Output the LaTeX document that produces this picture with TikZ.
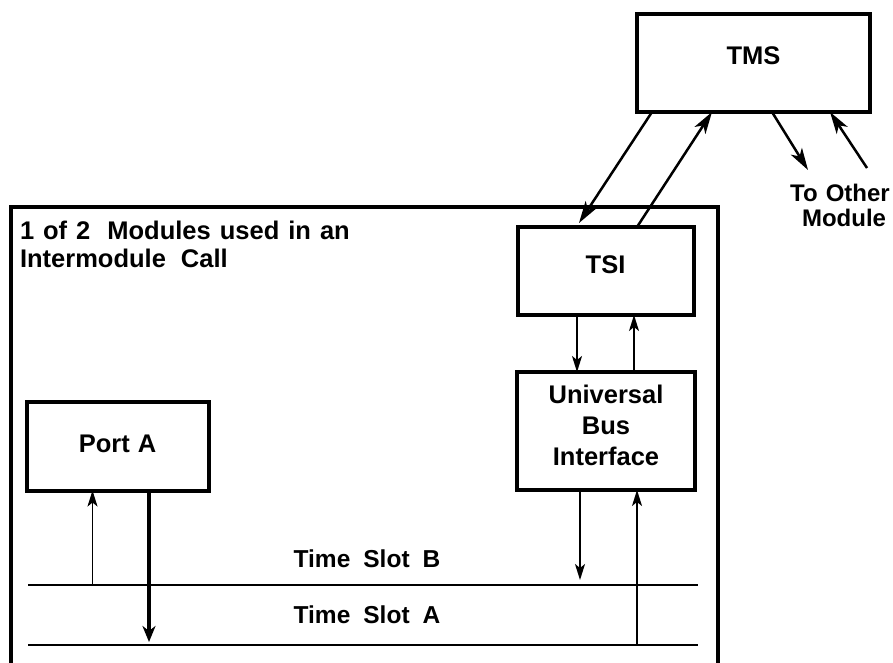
\documentclass[tikz,border=0pt]{standalone}
\usepackage{fontspec}
\setmainfont{Liberation Sans}
\usetikzlibrary{arrows.meta,calc}
% explicit word gap of a given width
\newcommand\wgap[1]{\hspace*{#1}}
\begin{document}
\begin{tikzpicture}[x=1pt,y=-1pt,
  box/.style={draw,line width=4pt,inner sep=0pt,outer sep=0pt},
  txt/.style={inner sep=0pt,outer sep=0pt,font=\fontsize{25.5}{31}\selectfont\bfseries},
  border/.style={line width=4.5pt},
  slot/.style={line width=2pt},
  linkarrow/.style={line width=2.5pt,-{Stealth[length=22pt,width=13pt,inset=6pt]}},
  thinarrow/.style={line width=1.7pt,-{Stealth[length=16pt,width=10pt,inset=4pt]}},
  heavyarrow/.style={line width=3.5pt,-{Stealth[length=16pt,width=13pt,inset=5pt]}}
]
\useasboundingbox (0,0) rectangle (893,663);

% module outline (open at the bottom)
\draw[border] (11,663) -- (11,207) -- (718,207) -- (718,663);

% boxes
\node[box,minimum width=233pt,minimum height=98pt] (tms) at (753.5,63) {};
\node[box,minimum width=176pt,minimum height=88pt] (tsi) at (605.5,271) {};
\node[box,minimum width=178pt,minimum height=118pt] (uni) at (606,431) {};
\node[box,minimum width=182pt,minimum height=89pt] (port) at (117.5,446) {};

% box labels
\node[txt,anchor=base] (tmsl) at ([yshift=-2pt]tms.center) {TMS};
\node[txt,anchor=base] (tsil) at ([yshift=-2pt]tsi.center) {TSI};
\node[txt,anchor=base] (portl) at ([yshift=-6pt]port.center) {Port\wgap{8pt}A};
\node[txt,align=center] (unil) at ([yshift=6pt]uni.center) {Universal\\Bus\\Interface};

% other texts
\node[txt,anchor=north west,align=left,font=\fontsize{25.5}{28}\selectfont\bfseries] (title) at (20,221)
  {1\wgap{9pt}of\wgap{9pt}2\wgap{17pt}Modules\wgap{9pt}used\wgap{9pt}in\wgap{9pt}an\\Intermodule\wgap{15pt}Call};
\node[txt,anchor=north,align=center,font=\fontsize{24}{25}\selectfont\bfseries] (other) at (840,184)
  {To\wgap{8pt}Other\\\hspace*{8pt}Module};
\node[txt,anchor=base,font=\fontsize{24.5}{31}\selectfont\bfseries] (slotbl) at (367,567) {Time\wgap{13pt}Slot\wgap{13pt}B};
\node[txt,anchor=base,font=\fontsize{24.5}{31}\selectfont\bfseries] (slotal) at (367,623) {Time\wgap{13pt}Slot\wgap{13pt}A};

% time slot buses
\coordinate (tsB) at (28,585);
\coordinate (tsBe) at (698,585);
\coordinate (tsA) at (28,645);
\coordinate (tsAe) at (698,645);
\draw[slot] (tsB) -- (tsBe);
\draw[slot] (tsA) -- (tsAe);

% TMS <-> TSI
\coordinate (m1) at ($(tms.south west)+(15,0)$);
\coordinate (s1) at ($(tsi.north west)+(61.5,-4)$);
\coordinate (s2) at ($(tsi.north west)+(119.5,0)$);
\coordinate (m2) at ($(tms.south west)+(75,0)$);
\draw[linkarrow] (m1) -- (s1);
\draw[linkarrow] (s2) -- (m2);

% TMS <-> other module
\coordinate (m3) at ($(tms.south west)+(135,0)$);
\coordinate (o1) at (808,170);
\coordinate (o2) at (867,168);
\coordinate (m4) at ($(tms.south west)+(193,0)$);
\draw[linkarrow] (m3) -- (o1);
\draw[linkarrow] (o2) -- (m4);

% TSI <-> Universal Bus Interface
\coordinate (d1) at ($(tsi.south west)+(59.5,0)$);
\coordinate (d2) at ($(tsi.south west)+(116.5,0)$);
\draw[thinarrow] (d1) -- (d1 |- uni.north);
\draw[thinarrow] (d2 |- uni.north) -- (d2);

% Universal Bus Interface <-> time slots
\coordinate (u1) at ($(uni.south west)+(63,0)$);
\coordinate (u2) at ($(uni.south west)+(120,0)$);
\draw[thinarrow,shorten >=5pt] (u1) -- (u1 |- tsB);
\draw[thinarrow] (u2 |- tsA) -- (u2);

% Port A <-> time slots
\coordinate (p1) at ($(port.south west)+(66,0)$);
\coordinate (p2) at ($(port.south west)+(122.5,0)$);
\draw[thinarrow] (p1 |- tsB) -- (p1);
\draw[heavyarrow,shorten >=3pt] (p2) -- (p2 |- tsA);
\end{tikzpicture}
\end{document}
